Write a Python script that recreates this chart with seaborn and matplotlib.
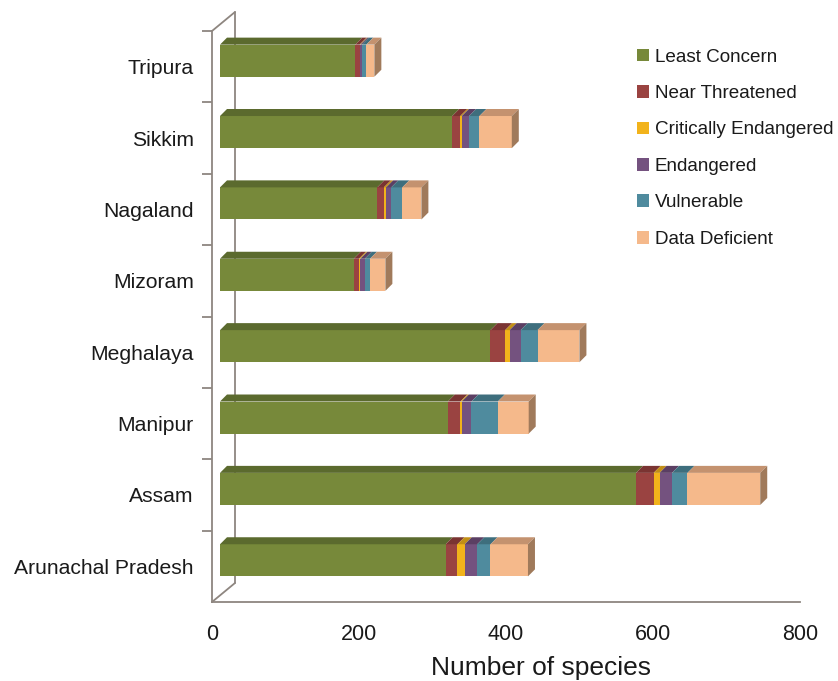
import numpy as np
import pandas as pd
import matplotlib
matplotlib.use("Agg")
import matplotlib.pyplot as plt
import matplotlib.transforms as mtransforms
from matplotlib.patches import Polygon, Patch
from matplotlib.lines import Line2D
import seaborn as sns

# Species counts per IUCN category for each north-eastern state
states = ["Tripura", "Sikkim", "Nagaland", "Mizoram", "Meghalaya",
          "Manipur", "Assam", "Arunachal Pradesh"]
least_concern = [184, 316, 214, 182, 368, 310, 566, 307]
near_threatened = [6, 11, 9, 7, 20, 17, 24, 16]
critically_endangered = [1, 2, 3, 2, 6, 2, 8, 10]
endangered = [2, 10, 7, 6, 15, 13, 17, 17]
vulnerable = [6, 14, 15, 7, 23, 36, 21, 18]
data_deficient = [11, 44, 26, 21, 57, 42, 99, 51]
status_names = ["Least Concern", "Near Threatened", "Critically Endangered",
                "Endangered", "Vulnerable", "Data Deficient"]
x_ticks = [0, 200, 400, 600, 800]

front_colors = ["#77893A", "#9A4341", "#F2B31B", "#74527F", "#4F8B9E", "#F5B98B"]
top_colors = ["#5B6A2E", "#7A3432", "#C28F16", "#5B3F63", "#3E6E7D", "#C4926F"]
side_color = "#A07A5B"
axis_color = "#8E8680"
text_color = "#1A1A1A"

sns.set_theme(style="white")
plt.rcParams["font.family"] = ["Liberation Sans", "DejaVu Sans"]

W, H = 838, 681
fig = plt.figure(figsize=(W / 100, H / 100), dpi=100)
fig.patch.set_facecolor("white")
ax_left, ax_right, ax_top, ax_bottom = 212, 800, 31, 602
ax = fig.add_axes([ax_left / W, 1 - ax_bottom / H,
                   (ax_right - ax_left) / W, (ax_bottom - ax_top) / H])
ax.set_facecolor("none")

series = np.array([least_concern, near_threatened, critically_endangered,
                   endangered, vulnerable, data_deficient], dtype=float)
cum = np.cumsum(series, axis=0)
starts = np.vstack([np.zeros(len(states)), cum[:-1]])

bar_w = 0.45
# bars sit a little behind the front plane of the 3-D box
bar_shift = np.array([8.0, 6.0])        # pixels (right, up)
depth = np.array([7.0, 7.0])             # pixels of bar depth
offset = mtransforms.ScaledTranslation(bar_shift[0] / 100, bar_shift[1] / 100,
                                       fig.dpi_scale_trans)

# stacked bars: draw cumulative totals from the outermost segment inwards
for k in reversed(range(len(status_names))):
    n_before = len(ax.patches)
    sns.barplot(x=cum[k], y=states, order=states, orient="h",
                color=front_colors[k], saturation=1, width=bar_w,
                linewidth=0, ax=ax, zorder=3)
    for p in ax.patches[n_before:]:
        p.set_transform(ax.transData + offset)

ax.set_xlim(0, 800)
ax.set_ylim(len(states) - 0.5, -0.5)

ident = mtransforms.IdentityTransform()


def to_px(x, y):
    return ax.transData.transform((x, y)) + bar_shift


# top faces and end faces of the 3-D bars
for i in range(len(states)):
    y_top = i - bar_w / 2
    y_bot = i + bar_w / 2
    for k in range(len(status_names)):
        x0, x1 = starts[k, i], cum[k, i]
        a = to_px(x0, y_top)
        b = to_px(x1, y_top)
        poly = Polygon([a, b, b + depth, a + depth], closed=True,
                       facecolor=top_colors[k], edgecolor="none",
                       transform=ident, zorder=4)
        ax.add_patch(poly)
    xe = cum[-1, i]
    c = to_px(xe, y_bot)
    d = to_px(xe, y_top)
    side = Polygon([c, d, d + depth, c + depth], closed=True,
                   facecolor=side_color, edgecolor="none",
                   transform=ident, zorder=4)
    ax.add_patch(side)

# box walls: front-left edge is the spine, back edge and joining diagonals
wall_depth = np.array([23.0, 19.0])
p_bot = ax.transData.transform((0, len(states) - 0.5))
p_top = ax.transData.transform((0, -0.5))
for seg in ([p_bot, p_bot + wall_depth], [p_top, p_top + wall_depth],
            [p_bot + wall_depth, p_top + wall_depth]):
    seg = np.array(seg)
    ax.add_line(Line2D(seg[:, 0], seg[:, 1], color=axis_color, lw=1.3,
                       transform=ident, zorder=1, clip_on=False))

for side_name in ["top", "right"]:
    ax.spines[side_name].set_visible(False)
for side_name in ["left", "bottom"]:
    ax.spines[side_name].set_color(axis_color)
    ax.spines[side_name].set_linewidth(1.3)

ax.set_xticks(x_ticks)
ax.set_xticklabels([str(t) for t in x_ticks])
ax.tick_params(axis="x", direction="out", length=7, width=1.3,
               color=axis_color, labelsize=15.5, labelcolor=text_color, pad=9)
ax.set_yticks(range(len(states)))
ax.set_yticklabels(states)
ax.tick_params(axis="y", which="major", length=0, labelsize=15.2,
               labelcolor=text_color, pad=13)
ax.set_yticks(np.arange(-0.5, len(states) - 0.5, 1.0), minor=True)
ax.tick_params(axis="y", which="minor", direction="out", length=7, width=1.3,
               color=axis_color, left=True)
ax.set_ylabel("")
ax.set_xlabel("Number of species", fontsize=19, color=text_color)
ax.xaxis.label.set_va("center")
ax.xaxis.set_label_coords((541 - ax_left) / (ax_right - ax_left),
                          (ax_bottom - 668) / (ax_bottom - ax_top))

handles = [Patch(facecolor=c, edgecolor="none") for c in front_colors]
fig.legend(handles, status_names, loc="upper left",
           bbox_to_anchor=(629 / W, 1 - 41 / H), frameon=False,
           fontsize=13.6, labelspacing=1.03, handlelength=0.65,
           handleheight=0.65, handletextpad=0.3, borderaxespad=0,
           labelcolor=text_color)

fig.savefig("out.png", dpi=100, facecolor="white")
